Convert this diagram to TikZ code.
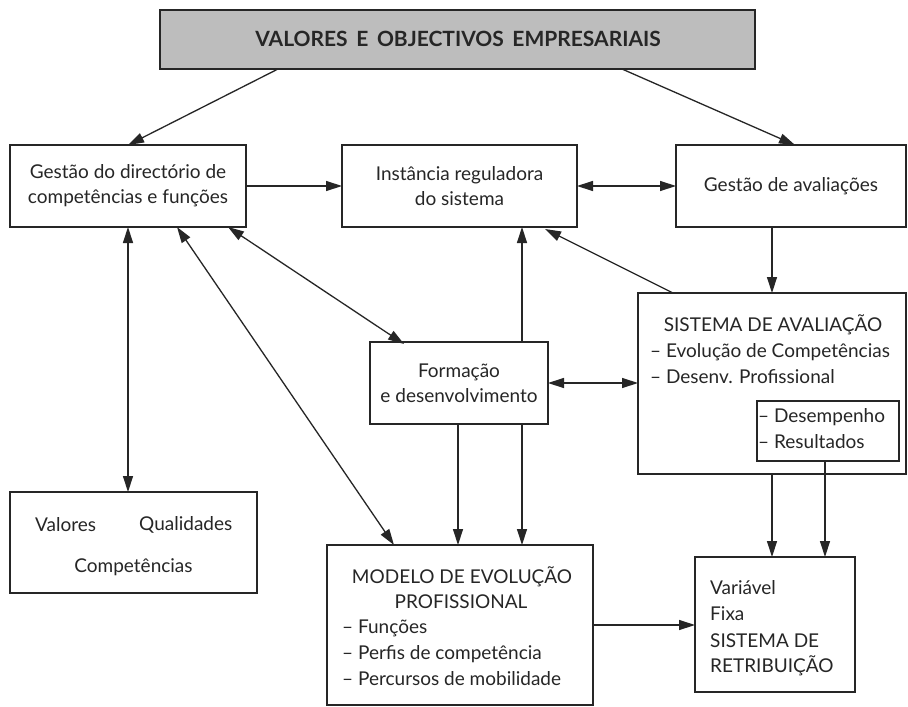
\documentclass[tikz,border=0pt]{standalone}
\usepackage{fontspec}
\setmainfont{Lato}
\usetikzlibrary{arrows.meta,calc}
\definecolor{ink}{HTML}{262626}
\definecolor{barfill}{HTML}{BDBDBD}
\begin{document}
\begin{tikzpicture}[x=1pt,y=-1pt,
  box/.style={draw=ink,line width=1.3pt,rectangle,inner sep=0pt,outer sep=0pt,align=center,text=ink,font=\fontsize{19}{25}\selectfont},
  txt/.style={text=ink,inner sep=0pt,font=\fontsize{19}{25}\selectfont},
  arr/.style={draw=ink,line width=1.3pt,-{Triangle[length=16pt,width=10pt]}},
  darr/.style={draw=ink,line width=1.3pt,{Triangle[length=16pt,width=10pt]}-{Triangle[length=16pt,width=10pt]}}]
\useasboundingbox[fill=white] (0,0) rectangle (908,707);
% boxes
\node[box,fill=barfill,line width=1.8pt,minimum width=595,minimum height=59] (bar) at (457.5,39.5) {};
\node[txt,font=\fontsize{21}{26}\bfseries\selectfont] (title) at (458,39) {VALORES\, E\, OBJECTIVOS\, EMPRESARIAIS};
\node[box,minimum width=236,minimum height=82] (g) at (128,186) {Gestão do directório de\\competências e funções};
\node[box,minimum width=235,minimum height=82] (inst) at (459.5,186) {Instância reguladora\\do sistema};
\node[box,minimum width=230,minimum height=82] (aval) at (791,186) {Gestão de avaliações};
\node[box,minimum width=268,minimum height=181] (sis) at (772,383.5) {};
\node[box,minimum width=142,minimum height=60] (inner) at (828,431) {};
\node[box,minimum width=178,minimum height=82] (form) at (459,383) {Formação\\e desenvolvimento};
\node[box,minimum width=247,minimum height=101] (val) at (133.5,542.5) {};
\node[box,minimum width=266,minimum height=160] (mod) at (460,625) {};
\node[box,minimum width=160,minimum height=135] (var) at (775,624.5) {};
% texts
\node[txt,anchor=west] (t1) at (35,525) {Valores};
\node[txt,anchor=west] (t2) at (139,525) {Qualidades};
\node[txt] (t3) at (133.5,567) {Competências};
\node[txt] (s1) at (773,325) {SISTEMA DE AVALIAÇÃO};
\node[txt,anchor=west] (s2) at (650,352) {– Evolução de Competências};
\node[txt,anchor=west] (s3) at (650,377) {– Desenv. Profissional};
\node[txt,anchor=west] (s4) at (758,417) {– Desempenho};
\node[txt,anchor=west] (s5) at (758,442) {– Resultados};
\node[txt] (m1) at (462,577) {MODELO DE EVOLUÇÃO};
\node[txt] (m2) at (461,602) {PROFISSIONAL};
\node[txt,anchor=west] (m3) at (342,628) {– Funções};
\node[txt,anchor=west] (m4) at (342,654) {– Perfis de competência};
\node[txt,anchor=west] (m5) at (342,679) {– Percursos de mobilidade};
\node[txt,anchor=west] (v1) at (710,588) {Variável};
\node[txt,anchor=west] (v2) at (710,614) {Fixa};
\node[txt,anchor=west] (v3) at (710,641) {SISTEMA DE};
\node[txt,anchor=west] (v4) at (710,666) {RETRIBUIÇÃO};
% connectors
\draw[arr] ([xshift=-179.5pt]bar.south) -- (g.north);
\draw[arr] ([xshift=164.5pt]bar.south) -- ([xshift=4pt]aval.north);
\draw[arr] (g.east) -- (inst.west);
\draw[darr] (inst.east) -- (aval.west);
\draw[arr] (aval.south -| sis.north) -- (sis.north);
\draw[arr] ([xshift=35pt]sis.north west) -- ([xshift=-32pt,yshift=-2pt]inst.south east);
\draw[arr] ([xshift=63pt]form.north) -- ([xshift=63pt]form.north |- inst.south);
\draw[darr] (form.east) -- (form.east -| sis.west);
\draw[arr] ([xshift=-1pt]form.south) -- ([xshift=-1pt]form.south |- mod.north);
\draw[arr] ([xshift=63pt]form.south) -- ([xshift=63pt]form.south |- mod.north);
\draw[darr] (g.south) -- (g.south |- val.north);
\draw[darr] ([xshift=49pt]g.south) -- ([xshift=67pt]mod.north west);
\draw[darr] ([xshift=-18pt]g.south east) -- ([xshift=34pt,yshift=-2pt]form.north west);
\draw[arr] (sis.south) -- (sis.south |- var.north);
\draw[arr] ([xshift=-3pt]inner.south) -- ([xshift=-3pt]inner.south |- var.north);
\draw[arr] (mod.east) -- (mod.east -| var.west);
\end{tikzpicture}
\end{document}
